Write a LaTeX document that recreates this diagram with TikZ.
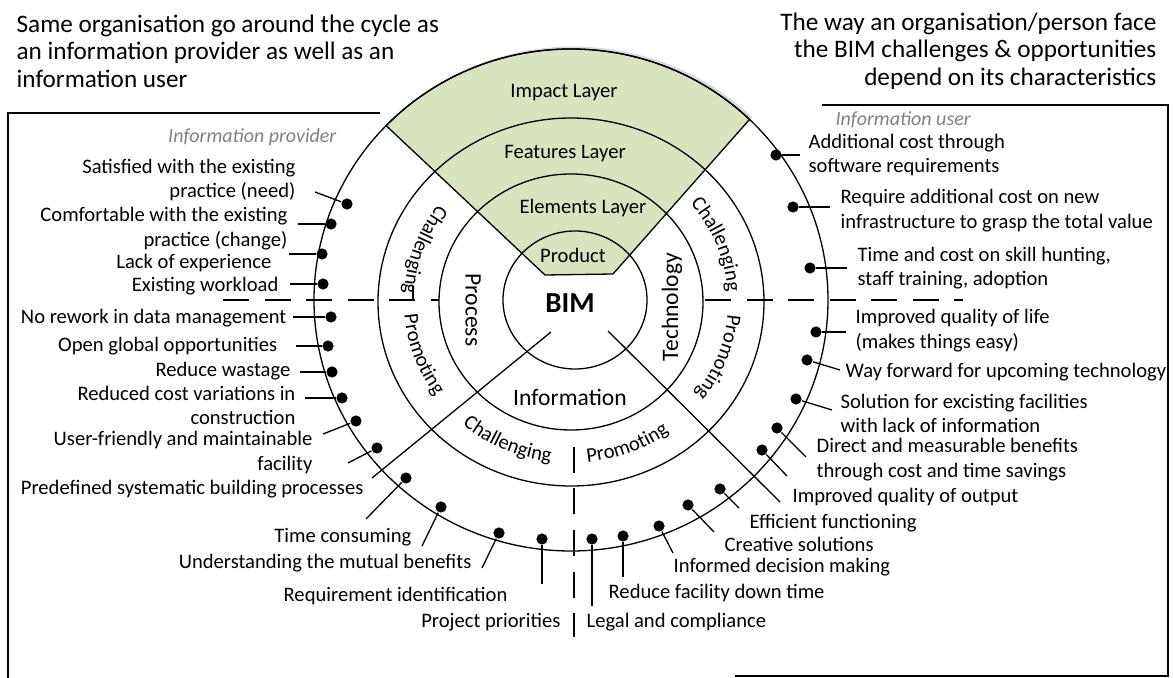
\documentclass[tikz,border=0pt]{standalone}
\usepackage{fontspec}
\setmainfont{Carlito}
\usetikzlibrary{decorations.text, shadows}
\definecolor{sectorgreen}{RGB}{215,228,189}
\definecolor{notegray}{RGB}{128,128,128}
\newcommand{\ringfont}{\fontsize{10.3}{12}\selectfont}

\begin{document}
\begin{tikzpicture}[x=0.5pt, y=-0.5pt, line width=0.65pt]

\tikzset{dot/.style = {shape=circle, fill, inner sep=0pt, minimum size=5.6pt}}
\tikzset{lab/.style = {font=\fontsize{10.3}{12.25}\selectfont, inner sep=0pt}}
\tikzset{labl/.style = {lab, anchor=east, align=right}}
\tikzset{labr/.style = {lab, anchor=west, align=left}}
\tikzset{headtxt/.style = {font=\fontsize{12.6}{13.8}\selectfont, inner sep=0pt}}
\tikzset{note/.style = {font=\fontsize{10}{12}\selectfont\itshape, text=notegray, inner sep=0pt}}
\tikzset{layer/.style = {font=\ringfont, inner sep=0pt}}
\tikzset{core/.style = {font=\fontsize{11.8}{14}\selectfont, inner sep=0pt}}
\tikzset{split/.style = {dash pattern=on 13pt off 7.75pt}}
\tikzset{arctext/.style = {decorate, decoration={text along path, text align=center, text={|\ringfont|#1}}}}

\useasboundingbox (0,0) rectangle (1173,678);

%centres
\coordinate (c) at (571,302);
\coordinate (co) at (571,300);
\coordinate (ci) at (575,300);

%impact sector
\path (co) ++(-136:257 and 251) coordinate (lt);
\draw[fill=sectorgreen, drop shadow={opacity=0.3, shadow xshift=1.2pt, shadow yshift=1.2pt}] (lt) arc[start angle=-136, end angle=-46, x radius=257, y radius=251] -- (613,274) -- (545,275) -- cycle;

%rings
\draw (ci) ellipse [x radius=72, y radius=69];
\draw (c) ellipse [x radius=132, y radius=128];
\draw (c) ellipse [x radius=193, y radius=184];
\draw (co) ellipse [x radius=257, y radius=251];

%dividers
\draw (551,332) -- (372,478);
\draw (608,331) -- (780,502);
\draw[split] (223,300) -- (439,300);
\draw[split] (705,300) -- (963,300);
\draw[split] (574,447) -- (574,637);
\draw (413,286) -- (413,301);

%layers
\node[layer] (impact) at (564,93) {Impact Layer};
\node[layer] (features) at (565,154) {Features Layer};
\node[layer] (elements) at (583,208) {Elements Layer};
\node[layer] (product) at (573,255) {Product};
\node[font=\fontsize{14.5}{16}\selectfont\bfseries] (bim) at (570,303) {BIM};
\node[core, rotate=-90] (process) at (473,310) {Process};
\node[core, rotate=90] (technology) at (672,307) {Technology};
\node[core] (information) at (570,397) {Information};

%ring words
\path[arctext=Challenging] (c) ++(235:167 and 161) arc[start angle=235, end angle=165, x radius=167, y radius=161];
\path[arctext=Promoting] (c) ++(195:167 and 161) arc[start angle=195, end angle=125, x radius=167, y radius=161];
\path[arctext=Challenging] (c) ++(-57:157 and 151) arc[start angle=-57, end angle=13, x radius=157, y radius=151];
\path[arctext=Promoting] (c) ++(-14:157 and 151) arc[start angle=-14, end angle=56, x radius=157, y radius=151];
\path[arctext=Challenging] (c) ++(149:167 and 161) arc[start angle=149, end angle=79, x radius=167, y radius=161];
\path[arctext=Promoting] (c) ++(104:167 and 161) arc[start angle=104, end angle=34, x radius=167, y radius=161];

%headings
\node[headtxt, anchor=west, align=left] (cycle) at (16,51) {Same organisation go around the cycle as\\an information provider as well as an\\information user};
\node[headtxt, anchor=east, align=right] (face) at (1157,51) {The way an organisation/person face\\the BIM challenges \& opportunities\\depend on its characteristics};
\node[note, anchor=east] (provider) at (337,137) {Information provider};
\node[note, anchor=west] (user) at (835,120) {Information user};

%provider side
\node[labl] (l1) at (296,180) {Satisfied with the existing\\practice (need)};
\node[labl] (l2) at (288,228.5) {Comfortable with the existing\\practice (change)};
\node[labl] (l3) at (272,263) {Lack of experience};
\node[labl] (l4) at (279,286) {Existing workload};
\node[labl] (l5) at (287,318) {No rework in data management};
\node[labl] (l6) at (278,346) {Open global opportunities};
\node[labl] (l7) at (291,371) {Reduce wastage};
\node[labl] (l8) at (296,405.5) {Reduced cost variations in\\construction};
\node[labl] (l9) at (313,452.5) {User-friendly and maintainable\\facility};
\node[labl] (l10) at (364,489) {Predefined systematic building processes};
\node[labl] (l11) at (412,537) {Time consuming};
\node[labl] (l12) at (472,563) {Understanding the mutual benefits};
\node[labl] (l13) at (508,596) {Requirement identification};
\node[labl] (l14) at (561,622) {Project priorities};

%user side
\node[labr] (r1) at (808,155) {Additional cost through\\software requirements};
\node[labr] (r2) at (840,210.5) {Require additional cost on new\\infrastructure to grasp the total value};
\node[labr] (r3) at (857,268) {Time and cost on skill hunting,\\staff training, adoption};
\node[labr] (r4) at (855,330.5) {Improved quality of life\\(makes things easy)};
\node[labr] (r5) at (845,372) {Way forward for upcoming technology};
\node[labr] (r6) at (840,413.5) {Solution for excisting facilities\\with lack of information};
\node[labr] (r7) at (816,459.5) {Direct and measurable benefits\\through cost and time savings};
\node[labr] (r8) at (792,497) {Improved quality of output};
\node[labr] (r9) at (749,523) {Efficient functioning};
\node[labr] (r10) at (724,544) {Creative solutions};
\node[labr] (r11) at (673,567) {Informed decision making};
\node[labr] (r12) at (608,593) {Reduce facility down time};
\node[labr] (r13) at (586,622) {Legal and compliance};

%dots and leaders
\node[dot] (d1) at (347,204) {}; \coordinate (e1) at (315,192); \draw (e1) -- (d1);
\node[dot] (d2) at (331,224) {}; \coordinate (e2) at (298,224); \draw (e2) -- (d2);
\node[dot] (d3) at (322,254) {}; \coordinate (e3) at (289,254); \draw (e3) -- (d3);
\node[dot] (d4) at (323,284) {}; \coordinate (e4) at (290,284); \draw (e4) -- (d4);
\node[dot] (d5) at (331,317) {}; \coordinate (e5) at (293,317); \draw (e5) -- (d5);
\node[dot] (d6) at (328,346) {}; \coordinate (e6) at (296,346); \draw (e6) -- (d6);
\node[dot] (d7) at (332,372) {}; \coordinate (e7) at (300,372); \draw (e7) -- (d7);
\node[dot] (d8) at (342,398) {}; \coordinate (e8) at (305,398); \draw (e8) -- (d8);
\node[dot] (d9) at (356,421) {}; \coordinate (e9) at (323,434); \draw (e9) -- (d9);
\node[dot] (d10) at (377,448) {}; \coordinate (e10) at (348,463); \draw (e10) -- (d10);
\node[dot] (d11) at (406,478) {}; \coordinate (e11) at (366,519); \draw (e11) -- (d11);
\node[dot] (d12) at (441,507) {}; \coordinate (e12) at (422,546); \draw (e12) -- (d12);
\node[dot] (d13) at (499,533) {}; \coordinate (e13) at (482,568); \draw (e13) -- (d13);
\node[dot] (d14) at (542,539) {}; \coordinate (e14) at (542,584); \draw (e14) -- (d14);
\node[dot] (d15) at (776,155) {}; \coordinate (e15) at (800,155); \draw (e15) -- (d15);
\node[dot] (d16) at (793,207) {}; \coordinate (e16) at (830,207); \draw (e16) -- (d16);
\node[dot] (d17) at (810,268) {}; \coordinate (e17) at (847,268); \draw (e17) -- (d17);
\node[dot] (d18) at (816,332) {}; \coordinate (e18) at (846,332); \draw (e18) -- (d18);
\node[dot] (d19) at (807,360) {}; \coordinate (e19) at (840,370); \draw (e19) -- (d19);
\node[dot] (d20) at (796,399) {}; \coordinate (e20) at (832,410); \draw (e20) -- (d20);
\node[dot] (d21) at (777,428) {}; \coordinate (e21) at (806,457); \draw (e21) -- (d21);
\node[dot] (d22) at (762,450) {}; \coordinate (e22) at (787,476); \draw (e22) -- (d22);
\node[dot] (d23) at (720,489) {}; \coordinate (e23) at (739,508); \draw (e23) -- (d23);
\node[dot] (d24) at (688,505) {}; \coordinate (e24) at (714,532); \draw (e24) -- (d24);
\node[dot] (d25) at (659,526) {}; \coordinate (e25) at (673,553); \draw (e25) -- (d25);
\node[dot] (d26) at (623,536) {}; \coordinate (e26) at (623,577); \draw (e26) -- (d26);
\node[dot] (d27) at (592,539) {}; \coordinate (e27) at (592,606); \draw (e27) -- (d27);

%frames
\draw (380,113) -- (8,113) -- (8,678);
\draw (822,105) -- (1168,105) -- (1168,676) -- (735,676);

\end{tikzpicture}
\end{document}
